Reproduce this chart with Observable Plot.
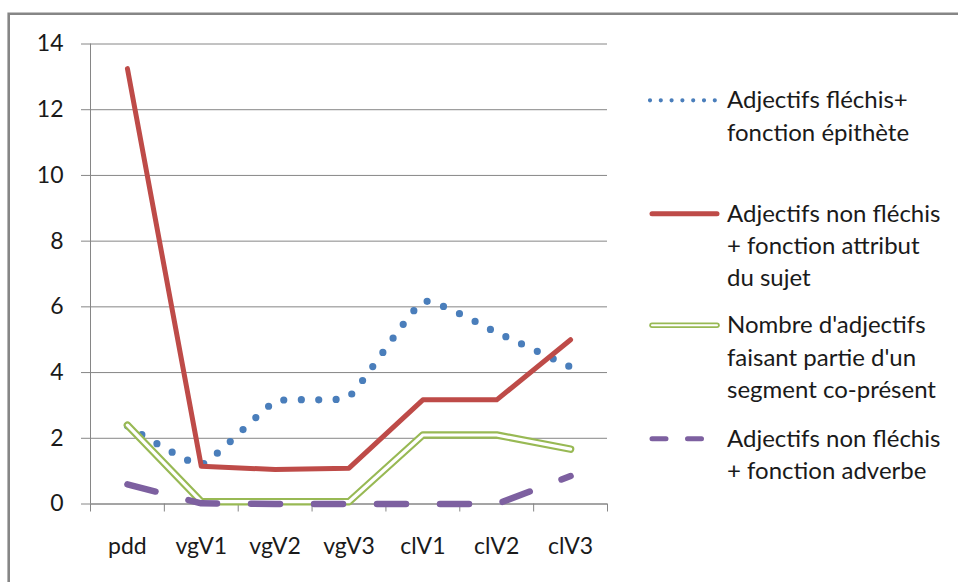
<!DOCTYPE html>
<html>
<head>
<meta charset="utf-8">
<script src="https://cdn.jsdelivr.net/npm/d3@7"></script>
<script src="https://cdn.jsdelivr.net/npm/@observablehq/plot@0.6"></script>
<style>
  html, body { margin: 0; padding: 0; background: #fff; }
  #wrap { position: relative; width: 958px; height: 582px; overflow: hidden; }
  #wrap svg { position: absolute; left: 0; top: 0; }
</style>
</head>
<body>
<div id="wrap"></div>
<script>
// ---- data ----
const categories = ["pdd", "vgV1", "vgV2", "vgV3", "clV1", "clV2", "clV3"];
const epithete  = [2.38, 1.2, 3.12, 3.27, 6.16, 5.22, 4.17];
const attribut  = [13.25, 1.15, 1.05, 1.09, 3.17, 3.17, 5.0];
const coPresent = [2.4, 0.07, 0.07, 0.07, 2.1, 2.1, 1.67];
const adverbe   = [0.6, 0.02, 0, 0, 0, 0, 0.85];
const seriesNames = [
  "Adjectifs fléchis+ fonction épithète",
  "Adjectifs non fléchis + fonction attribut du sujet",
  "Nombre d'adjectifs faisant partie d'un segment co-présent",
  "Adjectifs non fléchis + fonction adverbe"
];
const legendLines = [
  ["Adjectifs fléchis+", "fonction épithète"],
  ["Adjectifs non fléchis", "+ fonction attribut", "du sujet"],
  ["Nombre d'adjectifs", "faisant partie d'un", "segment co-présent"],
  ["Adjectifs non fléchis", "+ fonction adverbe"]
];
const yTicks = [0, 2, 4, 6, 8, 10, 12, 14];

// ---- build tables ----
const idx = categories.map((_, i) => i);
const toRows = vals => idx.map(i => ({i, cat: categories[i], v: vals[i]}));
const bounds = d3.range(categories.length + 1).map(k => k - 0.5);

const FONT = "Lato, 'Open Sans', sans-serif";
const gray = "#868686";
const ink = "#1a1a1a";
const colors = {blue: "#4A7EBB", red: "#BE4B48", green: "#98B954", purple: "#7D60A0"};

const chart = Plot.plot({
  width: 958,
  height: 582,
  marginLeft: 90,
  marginRight: 351,
  marginTop: 43.5,
  marginBottom: 78.5,
  x: {type: "linear", domain: [-0.5, categories.length - 0.5]},
  y: {domain: [0, 14]},
  style: {fontFamily: FONT, fontSize: "23px", color: ink, background: "transparent", overflow: "visible"},
  marks: [
    Plot.gridY(yTicks, {stroke: gray, strokeOpacity: 1, strokeWidth: 1}),
    Plot.axisY(yTicks, {tickSize: 9, tickPadding: 18, stroke: gray, strokeOpacity: 1, fill: ink, label: null, fontSize: 23}),
    Plot.ruleX([-0.5], {stroke: gray, strokeWidth: 1}),
    Plot.ruleY([0], {stroke: gray, strokeWidth: 1}),
    Plot.axisX(bounds, {tickSize: 8, tickFormat: () => "", stroke: gray, strokeOpacity: 1, label: null}),
    Plot.axisX(idx, {tickSize: 0, tickPadding: 34, tickFormat: i => categories[i], fill: ink, label: null, fontSize: 23}),
    // series 1 : dotted, smoothed
    Plot.line(toRows(epithete), {x: "i", y: "v", stroke: colors.blue, strokeWidth: 7.2,
      strokeDasharray: "0,17.3", strokeLinecap: "round", curve: "cardinal", tension: 0.6}),
    // series 2 : solid red
    Plot.line(toRows(attribut), {x: "i", y: "v", stroke: colors.red, strokeWidth: 5,
      strokeLinecap: "round", strokeLinejoin: "round"}),
    // series 3 : double green
    Plot.line(toRows(coPresent), {x: "i", y: "v", stroke: colors.green, strokeWidth: 7.5,
      strokeLinecap: "round", strokeLinejoin: "round"}),
    Plot.line(toRows(coPresent), {x: "i", y: "v", stroke: "#ffffff", strokeWidth: 3.2,
      strokeLinecap: "round", strokeLinejoin: "round"}),
    // series 4 : dashed purple
    Plot.line(toRows(adverbe), {x: "i", y: "v", stroke: colors.purple, strokeWidth: 6.5,
      strokeDasharray: "29,34", strokeLinecap: "round", strokeLinejoin: "round"})
  ]
});

const wrap = document.getElementById("wrap");
wrap.appendChild(chart);

// ---- overlay: frame border + legend ----
const ov = d3.select(wrap).append("svg")
  .attr("width", 958).attr("height", 582)
  .style("pointer-events", "none");

ov.append("path")
  .attr("d", "M8.7,600 L8.7,13.7 L970,13.7")
  .attr("fill", "none").attr("stroke", gray).attr("stroke-width", 2.6);

const legendStyles = [
  {type: "dot", color: colors.blue},
  {type: "solid", color: colors.red},
  {type: "double", color: colors.green},
  {type: "dash", color: colors.purple}
];
const firstBaselines = [108.3, 221.7, 333.3, 446.7];
const lineStep = 32.3;
const sx0 = 650, sx1 = 719, tx = 727;

legendLines.forEach((lines, k) => {
  const b = firstBaselines[k];
  const ly = b - 8;
  const st = legendStyles[k];
  const g = ov.append("g");
  if (st.type === "dot") {
    g.append("line").attr("x1", sx0).attr("x2", sx1 - 4).attr("y1", ly).attr("y2", ly)
      .attr("stroke", st.color).attr("stroke-width", 4.2).attr("stroke-linecap", "round")
      .attr("stroke-dasharray", "0,10.8");
  } else if (st.type === "solid") {
    g.append("line").attr("x1", sx0 + 2).attr("x2", sx1 - 2).attr("y1", ly).attr("y2", ly)
      .attr("stroke", st.color).attr("stroke-width", 5).attr("stroke-linecap", "round");
  } else if (st.type === "double") {
    g.append("line").attr("x1", sx0 + 2).attr("x2", sx1 - 2).attr("y1", ly).attr("y2", ly)
      .attr("stroke", st.color).attr("stroke-width", 5.5).attr("stroke-linecap", "round");
    g.append("line").attr("x1", sx0 + 2).attr("x2", sx1 - 2).attr("y1", ly).attr("y2", ly)
      .attr("stroke", "#fff").attr("stroke-width", 2).attr("stroke-linecap", "round");
  } else {
    g.append("line").attr("x1", sx0 + 2).attr("x2", sx1 - 2).attr("y1", ly).attr("y2", ly)
      .attr("stroke", st.color).attr("stroke-width", 5).attr("stroke-linecap", "round")
      .attr("stroke-dasharray", "14,21.5");
  }
  lines.forEach((t, j) => {
    g.append("text").attr("x", tx).attr("y", b + j * lineStep)
      .attr("font-family", FONT).attr("font-size", 24).attr("fill", ink)
      .text(t);
  });
  g.append("title").text(seriesNames[k]);
});
</script>
</body>
</html>
